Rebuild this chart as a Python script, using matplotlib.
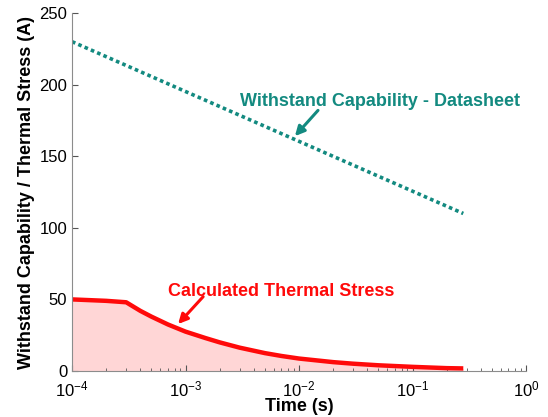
import matplotlib.pyplot as plt

plt.rcParams['font.family'] = ['Liberation Sans', 'DejaVu Sans']

# Datasheet withstand capability (straight line on log-time axis)
withstand_t = [1e-4, 0.28]
withstand_a = [230, 110]

# Calculated thermal stress
stress_t = [1e-4, 2e-4, 3e-4, 4e-4, 5e-4, 7e-4, 1e-3, 1.5e-3, 2e-3, 3e-3, 5e-3,
            7e-3, 1e-2, 2e-2, 3e-2, 5e-2, 1e-1, 2e-1, 2.8e-1]
stress_a = [50, 49, 48, 42, 38, 32.5, 27.5, 23, 20, 16.3, 12.5,
            10.5, 8.7, 6.2, 5.1, 4.0, 2.9, 2.0, 1.8]

teal = "#138a80"
red = "#ff0a0a"

fig = plt.figure(figsize=(5.48, 4.17), dpi=100)
ax = fig.add_axes([0.1314, 0.1103, 0.8285, 0.8585])

ax.fill_between(stress_t, stress_a, 0, color="#ffd6d6", linewidth=0)
ax.plot(stress_t, stress_a, color=red, linewidth=3.2, solid_capstyle="butt",
        solid_joinstyle="round")
ax.plot(withstand_t, withstand_a, color=teal, linewidth=2.6, linestyle=(0, (1, 0.9)))

ax.set_xscale("log")
ax.set_xlim(1e-4, 1)
ax.set_ylim(0, 250)
ax.set_yticks([0, 50, 100, 150, 200, 250])

for s in ["top", "right"]:
    ax.spines[s].set_visible(False)
for s in ["left", "bottom"]:
    ax.spines[s].set_color("#8c8c8c")
ax.tick_params(which="both", direction="in", color="#555555", labelsize=12)
ax.tick_params(which="major", length=4)
ax.tick_params(which="minor", length=2.5)
ax.tick_params(axis="x", pad=6)

ax.set_xlabel("Time (s)", fontsize=13, fontweight="bold", labelpad=-1)
ax.set_ylabel("Withstand Capability / Thermal Stress (A)", fontsize=13,
              fontweight="bold", labelpad=3)

ax.text(3.0e-3, 188.5, "Withstand Capability - Datasheet", fontsize=13,
        fontweight="bold", color=teal, ha="left", va="center")
ax.annotate("", xy=(0.0092, 164), xytext=(0.0147, 182),
            arrowprops=dict(arrowstyle="-|>", color=teal, lw=2.2, mutation_scale=14,
                            shrinkA=0, shrinkB=0))

ax.text(7.0e-4, 55.2, "Calculated Thermal Stress", fontsize=13,
        fontweight="bold", color=red, ha="left", va="center")
ax.annotate("", xy=(8.6e-4, 32.8), xytext=(1.43e-3, 51.9),
            arrowprops=dict(arrowstyle="-|>", color=red, lw=2.2, mutation_scale=14,
                            shrinkA=0, shrinkB=0))

fig.savefig("out.png", dpi=100)
